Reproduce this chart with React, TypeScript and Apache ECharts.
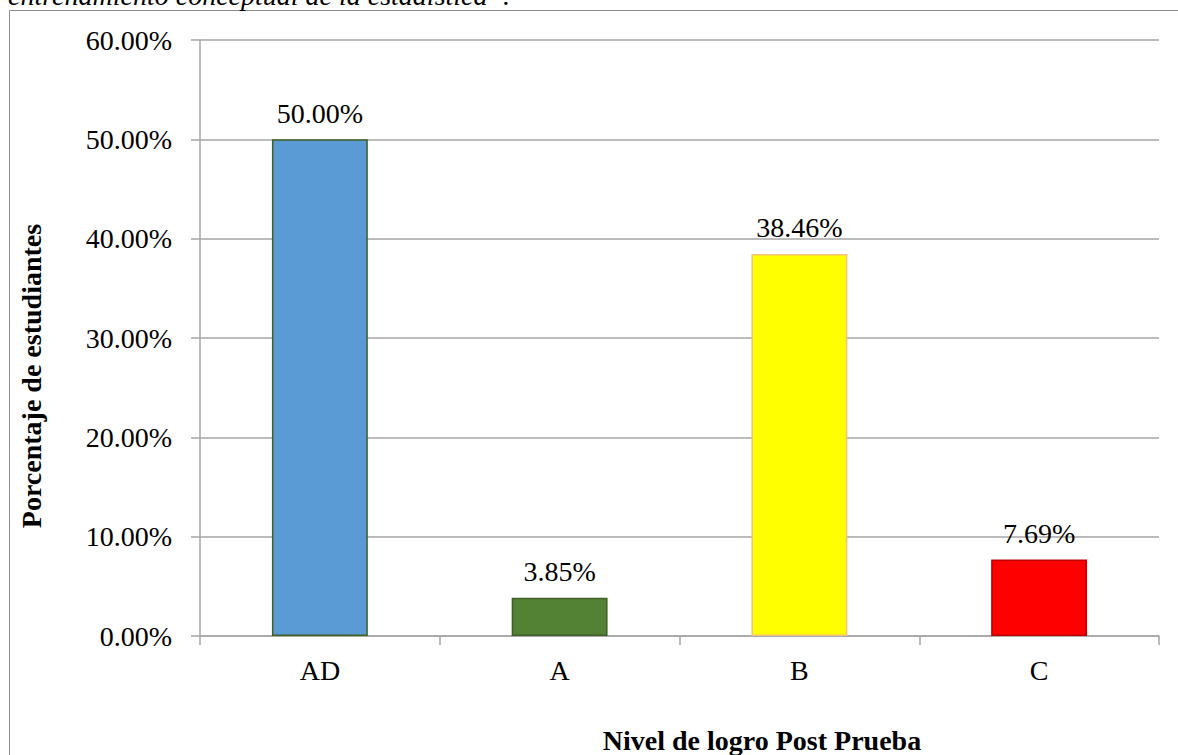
import React, { useEffect, useRef } from "react";
import * as echarts from "echarts";

const categories = ["AD", "A", "B", "C"];
const values = [50.0, 3.85, 38.46, 7.69];
const barColors = ["#5B9BD5", "#548235", "#FFFF00", "#FF0000"];
const barBorders = ["#3F5F25", "#3F5F25", "#F4C27A", "#C00000"];
const yTicks = [0, 10, 20, 30, 40, 50, 60];

const xTitle = "Nivel de logro Post Prueba";
const yTitle = "Porcentaje de estudiantes";
const caption = "entrenamiento conceptual de la estadística\u201D.";

const serif = "'Liberation Serif', 'Times New Roman', serif";
const axisGray = "#a6a6a6";

export default function App() {
  const ref = useRef<HTMLDivElement>(null);

  useEffect(() => {
    document.body.style.margin = "0";
    const chart = echarts.init(ref.current!, undefined, { renderer: "svg" });
    chart.setOption({
      animation: false,
      backgroundColor: "#ffffff",
      textStyle: { fontFamily: serif },
      grid: { left: 200, right: 19, top: 40, bottom: 119 },
      graphic: [
        {
          type: "rect",
          shape: { x: 9.5, y: 10.5, width: 1200, height: 800 },
          style: { fill: "none", stroke: "#8c8c8c", lineWidth: 1 },
          silent: true,
          z: 0,
        },
        {
          type: "text",
          x: 8,
          y: -5,
          style: {
            text: caption,
            font: `italic 28px ${serif}`,
            fill: "#000",
            textAlign: "left",
            textVerticalAlign: "middle",
          },
        },
        {
          type: "text",
          x: 762,
          y: 740,
          style: {
            text: xTitle,
            font: `bold 28px ${serif}`,
            fill: "#000",
            textAlign: "center",
            textVerticalAlign: "middle",
          },
        },
        {
          type: "text",
          x: 31,
          y: 376,
          rotation: Math.PI / 2,
          style: {
            text: yTitle,
            font: `bold 28px ${serif}`,
            fill: "#000",
            textAlign: "center",
            textVerticalAlign: "middle",
          },
        },
      ],
      xAxis: {
        type: "category",
        data: categories,
        axisLine: { lineStyle: { color: axisGray, width: 1.5 } },
        axisTick: { show: true, length: 9, lineStyle: { color: axisGray, width: 1.5 } },
        axisLabel: { fontSize: 28, color: "#000", margin: 20, fontFamily: serif },
      },
      yAxis: {
        type: "value",
        min: yTicks[0],
        max: yTicks[yTicks.length - 1],
        interval: 10,
        axisLine: { show: true, lineStyle: { color: axisGray, width: 1.5 } },
        axisTick: { show: true, length: 9, lineStyle: { color: axisGray, width: 1.5 } },
        axisLabel: {
          fontSize: 28,
          color: "#000",
          margin: 28,
          fontFamily: serif,
          formatter: (v: number) => v.toFixed(2) + "%",
        },
        splitLine: { show: true, lineStyle: { color: axisGray, width: 1.5 } },
      },
      series: [
        {
          type: "bar",
          barWidth: "40%",
          data: values.map((v, i) => ({
            value: v,
            itemStyle: { color: barColors[i], borderColor: barBorders[i], borderWidth: 1.5 },
          })),
          label: {
            show: true,
            position: "top",
            distance: 12,
            fontSize: 28,
            color: "#000",
            fontFamily: serif,
            formatter: (p: any) => Number(p.value).toFixed(2) + "%",
          },
        },
      ],
    });
    return () => chart.dispose();
  }, []);

  return <div ref={ref} style={{ width: 1178, height: 755 }} />;
}
